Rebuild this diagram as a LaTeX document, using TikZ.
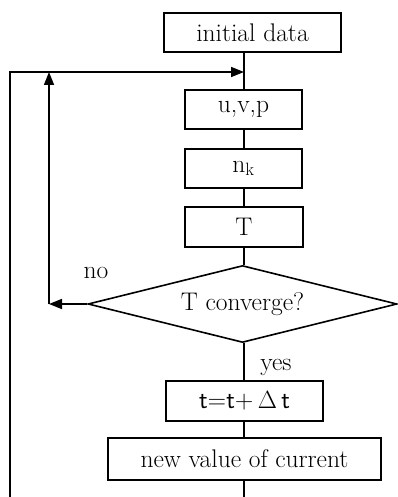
\documentclass[tikz,border=0pt]{standalone}
\usepackage{fontspec}
\usetikzlibrary{shapes.geometric,arrows.meta}
\begin{document}
\begin{tikzpicture}[x=1pt,y=-1pt,
  line width=1.6pt,
  every node/.style={font=\fontsize{25.5}{29}\selectfont},
  boxstyle/.style={draw, rectangle, inner sep=0pt, line width=1.6pt},
  decstyle/.style={draw, diamond, aspect=4, inner sep=0pt, line width=1.6pt, minimum width=309pt, minimum height=77pt},
  conn/.style={line width=1.6pt},
  arr/.style={line width=1.6pt, -{Triangle[length=13pt,width=10pt]}}
]
\useasboundingbox (0,0) rectangle (398,497);
\node[boxstyle, minimum width=177pt, minimum height=39pt] (init) at (252.5,32.5) {initial data};
\node[boxstyle, minimum width=117pt, minimum height=39pt] (uvp) at (243.5,109.5) {u,v,p};
\node[boxstyle, minimum width=117pt, minimum height=39pt] (nk) at (243.5,168.5) {\raisebox{-4pt}{n$_{\mathrm{k}}$}};
\node[boxstyle, minimum width=118pt, minimum height=40pt] (T) at (244,227) {T};
\node[decstyle] (conv) at (242.5,304) {T converge?};
\node[boxstyle, minimum width=157pt, minimum height=40pt] (tt) at (244.5,401) {\sffamily t=t+\,$\Delta$\,t};
\node[boxstyle, minimum width=273pt, minimum height=42pt] (nv) at (244.5,459) {new value of current};
\node (no) at (96,273) {no};
\node (yes) at (276,367) {yes};
\coordinate (join) at (244,72);
\coordinate (topleft) at (10,72);
\coordinate (botleft) at (10,497);
\coordinate (botmid) at (244,497);
\coordinate (noturn) at (49,304);
\coordinate (nouptop) at (49,72);
% main chain
\draw[conn] (init.south -| join) -- (uvp.north -| join);
\draw[conn] (uvp.south -| join) -- (nk.north -| join);
\draw[conn] (nk.south -| join) -- (T.north -| join);
\draw[conn] (T.south -| join) -- (conv.north -| join);
\draw[conn] (conv.south -| join) -- (tt.north -| join);
\draw[conn] (tt.south -| join) -- (nv.north -| join);
\draw[conn] (nv.south -| join) -- (botmid);
% outer loop
\draw[arr] (botleft) -- (topleft) -- (join);
% no branch
\draw[arr] (conv.west) -- (noturn);
\draw[arr] (noturn) -- (nouptop);
\end{tikzpicture}
\end{document}
